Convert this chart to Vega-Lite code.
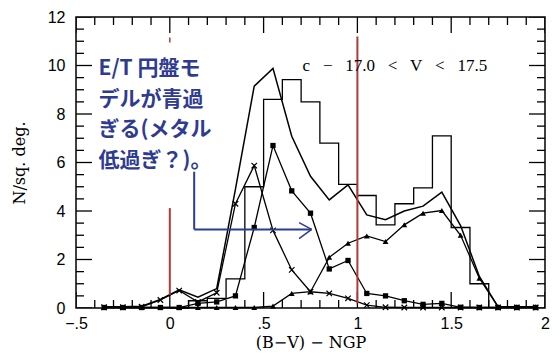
{
  "$schema": "https://vega.github.io/schema/vega-lite/v6.json",
  "width": 469,
  "height": 291,
  "autosize": "none",
  "padding": {"left": 76, "top": 17, "right": 15, "bottom": 49},
  "background": "white",
  "config": {
    "view": {"stroke": "black", "strokeWidth": 1.5}
  },
  "datasets": {
    "xmaj": [{"v": -0.5}, {"v": 0}, {"v": 0.5}, {"v": 1}, {"v": 1.5}, {"v": 2}],
    "xmin": [{"v": -0.4}, {"v": -0.3}, {"v": -0.2}, {"v": -0.1}, {"v": 0.1}, {"v": 0.2}, {"v": 0.3}, {"v": 0.4}, {"v": 0.6}, {"v": 0.7},
             {"v": 0.8}, {"v": 0.9}, {"v": 1.1}, {"v": 1.2}, {"v": 1.3}, {"v": 1.4}, {"v": 1.6}, {"v": 1.7}, {"v": 1.8}, {"v": 1.9}],
    "ymaj": [{"v": 0}, {"v": 2}, {"v": 4}, {"v": 6}, {"v": 8}, {"v": 10}, {"v": 12}],
    "ymin": [{"v": 0.5}, {"v": 1}, {"v": 1.5}, {"v": 2.5}, {"v": 3}, {"v": 3.5}, {"v": 4.5}, {"v": 5}, {"v": 5.5}, {"v": 6.5},
             {"v": 7}, {"v": 7.5}, {"v": 8.5}, {"v": 9}, {"v": 9.5}, {"v": 10.5}, {"v": 11}, {"v": 11.5}],
    "hist": [
      {"x0": 0.0, "n": 0}, {"x0": 0.1, "n": 0.3}, {"x0": 0.2, "n": 0.4}, {"x0": 0.3, "n": 1.2},
      {"x0": 0.4, "n": 5.0}, {"x0": 0.5, "n": 8.6}, {"x0": 0.6, "n": 9.42}, {"x0": 0.7, "n": 8.5},
      {"x0": 0.8, "n": 6.8}, {"x0": 0.9, "n": 5.1}, {"x0": 1.0, "n": 4.64}, {"x0": 1.1, "n": 3.43},
      {"x0": 1.2, "n": 4.3}, {"x0": 1.3, "n": 4.95}, {"x0": 1.4, "n": 7.1}, {"x0": 1.5, "n": 3.32},
      {"x0": 1.6, "n": 1.0}, {"x0": 1.7, "n": 0}
    ],
    "lines": [
      {"x": -0.35, "s": "T", "n": 0.05}, {"x": -0.25, "s": "T", "n": 0.05}, {"x": -0.15, "s": "T", "n": 0.07}, {"x": -0.05, "s": "T", "n": 0.35},
      {"x": 0.05, "s": "T", "n": 0.75}, {"x": 0.15, "s": "T", "n": 0.45}, {"x": 0.25, "s": "T", "n": 0.8}, {"x": 0.35, "s": "T", "n": 4.9},
      {"x": 0.45, "s": "T", "n": 9.15}, {"x": 0.55, "s": "T", "n": 9.88}, {"x": 0.65, "s": "T", "n": 7.08}, {"x": 0.75, "s": "T", "n": 5.43},
      {"x": 0.85, "s": "T", "n": 4.46}, {"x": 0.95, "s": "T", "n": 5.08}, {"x": 1.05, "s": "T", "n": 3.84}, {"x": 1.15, "s": "T", "n": 3.64},
      {"x": 1.25, "s": "T", "n": 4.0}, {"x": 1.35, "s": "T", "n": 4.2}, {"x": 1.45, "s": "T", "n": 4.78}, {"x": 1.55, "s": "T", "n": 3.4},
      {"x": 1.65, "s": "T", "n": 1.3}, {"x": 1.75, "s": "T", "n": 0.05}, {"x": 1.85, "s": "T", "n": 0.05}, {"x": 1.95, "s": "T", "n": 0.05},

      {"x": -0.35, "s": "H", "n": 0.03}, {"x": -0.25, "s": "H", "n": 0.03}, {"x": -0.15, "s": "H", "n": 0.05}, {"x": -0.05, "s": "H", "n": 0.33},
      {"x": 0.05, "s": "H", "n": 0.72}, {"x": 0.15, "s": "H", "n": 0.25}, {"x": 0.25, "s": "H", "n": 0.63}, {"x": 0.35, "s": "H", "n": 4.3},
      {"x": 0.45, "s": "H", "n": 5.87}, {"x": 0.55, "s": "H", "n": 3.2}, {"x": 0.65, "s": "H", "n": 1.57}, {"x": 0.75, "s": "H", "n": 0.67},
      {"x": 0.85, "s": "H", "n": 0.6}, {"x": 0.95, "s": "H", "n": 0.4}, {"x": 1.05, "s": "H", "n": 0.12}, {"x": 1.15, "s": "H", "n": 0.03},
      {"x": 1.25, "s": "H", "n": 0.02}, {"x": 1.35, "s": "H", "n": 0.02}, {"x": 1.45, "s": "H", "n": 0.02}, {"x": 1.55, "s": "H", "n": 0.02},
      {"x": 1.65, "s": "H", "n": 0.02}, {"x": 1.75, "s": "H", "n": 0.02}, {"x": 1.85, "s": "H", "n": 0.02}, {"x": 1.95, "s": "H", "n": 0.02},

      {"x": -0.35, "s": "K", "n": 0.02}, {"x": -0.25, "s": "K", "n": 0.02}, {"x": -0.15, "s": "K", "n": 0.02}, {"x": -0.05, "s": "K", "n": 0.02},
      {"x": 0.05, "s": "K", "n": 0.02}, {"x": 0.15, "s": "K", "n": 0.19}, {"x": 0.25, "s": "K", "n": 0.25}, {"x": 0.35, "s": "K", "n": 0.5},
      {"x": 0.45, "s": "K", "n": 3.32}, {"x": 0.55, "s": "K", "n": 6.7}, {"x": 0.65, "s": "K", "n": 4.83}, {"x": 0.75, "s": "K", "n": 3.91},
      {"x": 0.85, "s": "K", "n": 1.61}, {"x": 0.95, "s": "K", "n": 1.96}, {"x": 1.05, "s": "K", "n": 0.6}, {"x": 1.15, "s": "K", "n": 0.5},
      {"x": 1.25, "s": "K", "n": 0.3}, {"x": 1.35, "s": "K", "n": 0.15}, {"x": 1.45, "s": "K", "n": 0.19}, {"x": 1.55, "s": "K", "n": 0.03},
      {"x": 1.65, "s": "K", "n": 0.02}, {"x": 1.75, "s": "K", "n": 0.02}, {"x": 1.85, "s": "K", "n": 0.02}, {"x": 1.95, "s": "K", "n": 0.02},

      {"x": -0.35, "s": "D", "n": 0.02}, {"x": -0.25, "s": "D", "n": 0.02}, {"x": -0.15, "s": "D", "n": 0.02}, {"x": -0.05, "s": "D", "n": 0.02},
      {"x": 0.05, "s": "D", "n": 0.02}, {"x": 0.15, "s": "D", "n": 0.02}, {"x": 0.25, "s": "D", "n": 0.02}, {"x": 0.35, "s": "D", "n": 0.02},
      {"x": 0.45, "s": "D", "n": 0.02}, {"x": 0.55, "s": "D", "n": 0.08}, {"x": 0.65, "s": "D", "n": 0.6}, {"x": 0.75, "s": "D", "n": 0.67},
      {"x": 0.85, "s": "D", "n": 2.09}, {"x": 0.95, "s": "D", "n": 2.67}, {"x": 1.05, "s": "D", "n": 2.97}, {"x": 1.15, "s": "D", "n": 2.74},
      {"x": 1.25, "s": "D", "n": 3.43}, {"x": 1.35, "s": "D", "n": 3.91}, {"x": 1.45, "s": "D", "n": 4.02}, {"x": 1.55, "s": "D", "n": 3.0},
      {"x": 1.65, "s": "D", "n": 1.23}, {"x": 1.75, "s": "D", "n": 0.05}, {"x": 1.85, "s": "D", "n": 0.05}, {"x": 1.95, "s": "D", "n": 0.05}
    ]
  },
  "layer": [
    {
      "data": {"name": "hist"},
      "mark": {"type": "line", "interpolate": "step-after", "color": "black", "strokeWidth": 1.3},
      "encoding": {
        "x": {"field": "x0", "type": "quantitative", "scale": {"domain": [-0.5, 2], "nice": false, "zero": false},
          "axis": {"orient": "bottom", "values": [-0.5, 0, 0.5, 1, 1.5, 2], "ticks": false, "domain": false, "grid": false,
            "labelExpr": "replace(format(datum.value,'~g'),'0.','.')", "labelFlush": false, "labelOverlap": false, "labelColor": "black",
            "labelFont": "Liberation Sans", "labelFontSize": 16, "labelPadding": 7,
            "title": "(B−V) − NGP", "titleColor": "black", "titleFont": "DejaVu Serif", "titleFontSize": 16, "titleFontWeight": "normal", "titlePadding": 3}},
        "y": {"field": "n", "type": "quantitative", "scale": {"domain": [0, 12], "nice": false, "zero": true},
          "axis": {"orient": "left", "values": [0, 2, 4, 6, 8, 10, 12], "ticks": false, "domain": false, "grid": false,
            "labelFlush": false, "labelOverlap": false, "labelColor": "black",
            "labelFont": "Liberation Sans", "labelFontSize": 16, "labelPadding": 11,
            "title": "N/sq. deg.", "titleColor": "black", "titleFont": "DejaVu Serif", "titleFontSize": 16, "titleFontWeight": "normal", "titlePadding": 20}}
      }
    },
    {
      "data": {"name": "xmaj"},
      "mark": {"type": "tick", "orient": "vertical", "size": 32, "thickness": 1.3, "color": "black", "opacity": 1, "clip": true},
      "encoding": {"x": {"field": "v", "type": "quantitative", "axis": null}, "y": {"datum": 0, "type": "quantitative", "axis": null}}
    },
    {
      "data": {"name": "xmaj"},
      "mark": {"type": "tick", "orient": "vertical", "size": 32, "thickness": 1.3, "color": "black", "opacity": 1, "clip": true},
      "encoding": {"x": {"field": "v", "type": "quantitative", "axis": null}, "y": {"datum": 12, "type": "quantitative", "axis": null}}
    },
    {
      "data": {"name": "xmin"},
      "mark": {"type": "tick", "orient": "vertical", "size": 16, "thickness": 1.3, "color": "black", "opacity": 1, "clip": true},
      "encoding": {"x": {"field": "v", "type": "quantitative", "axis": null}, "y": {"datum": 0, "type": "quantitative", "axis": null}}
    },
    {
      "data": {"name": "xmin"},
      "mark": {"type": "tick", "orient": "vertical", "size": 16, "thickness": 1.3, "color": "black", "opacity": 1, "clip": true},
      "encoding": {"x": {"field": "v", "type": "quantitative", "axis": null}, "y": {"datum": 12, "type": "quantitative", "axis": null}}
    },
    {
      "data": {"name": "ymaj"},
      "mark": {"type": "tick", "orient": "horizontal", "size": 32, "thickness": 1.3, "color": "black", "opacity": 1, "clip": true},
      "encoding": {"y": {"field": "v", "type": "quantitative", "axis": null}, "x": {"datum": -0.5, "type": "quantitative", "axis": null}}
    },
    {
      "data": {"name": "ymaj"},
      "mark": {"type": "tick", "orient": "horizontal", "size": 32, "thickness": 1.3, "color": "black", "opacity": 1, "clip": true},
      "encoding": {"y": {"field": "v", "type": "quantitative", "axis": null}, "x": {"datum": 2, "type": "quantitative", "axis": null}}
    },
    {
      "data": {"name": "ymin"},
      "mark": {"type": "tick", "orient": "horizontal", "size": 16, "thickness": 1.3, "color": "black", "opacity": 1, "clip": true},
      "encoding": {"y": {"field": "v", "type": "quantitative", "axis": null}, "x": {"datum": -0.5, "type": "quantitative", "axis": null}}
    },
    {
      "data": {"name": "ymin"},
      "mark": {"type": "tick", "orient": "horizontal", "size": 16, "thickness": 1.3, "color": "black", "opacity": 1, "clip": true},
      "encoding": {"y": {"field": "v", "type": "quantitative", "axis": null}, "x": {"datum": 2, "type": "quantitative", "axis": null}}
    },
    {
      "data": {"name": "lines"},
      "transform": [{"filter": "datum.s == 'T'"}],
      "mark": {"type": "line", "color": "black", "strokeWidth": 1.5},
      "encoding": {
        "x": {"field": "x", "type": "quantitative", "axis": null},
        "y": {"field": "n", "type": "quantitative", "axis": null}
      }
    },
    {
      "data": {"name": "lines"},
      "transform": [{"filter": "datum.s != 'T'"}],
      "mark": {"type": "line", "color": "black", "strokeWidth": 1.3},
      "encoding": {
        "x": {"field": "x", "type": "quantitative", "axis": null},
        "y": {"field": "n", "type": "quantitative", "axis": null},
        "detail": {"field": "s"}
      }
    },
    {
      "data": {"name": "lines"},
      "transform": [{"filter": "datum.s == 'H'"}],
      "mark": {"type": "point", "shape": "M-1,-1L1,1M-1,1L1,-1", "filled": false, "color": "black", "strokeWidth": 1.2, "size": 30, "opacity": 1},
      "encoding": {
        "x": {"field": "x", "type": "quantitative", "axis": null},
        "y": {"field": "n", "type": "quantitative", "axis": null}
      }
    },
    {
      "data": {"name": "lines"},
      "transform": [{"filter": "datum.s == 'K'"}],
      "mark": {"type": "point", "shape": "square", "filled": true, "color": "black", "size": 28, "opacity": 1},
      "encoding": {
        "x": {"field": "x", "type": "quantitative", "axis": null},
        "y": {"field": "n", "type": "quantitative", "axis": null}
      }
    },
    {
      "data": {"name": "lines"},
      "transform": [{"filter": "datum.s == 'D'"}],
      "mark": {"type": "point", "shape": "triangle-up", "filled": true, "color": "black", "size": 34, "opacity": 1},
      "encoding": {
        "x": {"field": "x", "type": "quantitative", "axis": null},
        "y": {"field": "n", "type": "quantitative", "axis": null}
      }
    },
    {
      "data": {"values": [{}]},
      "mark": {"type": "rule", "color": "#b03a3a", "strokeWidth": 2},
      "encoding": {"x": {"datum": 0, "type": "quantitative", "axis": null}, "y": {"datum": 0.54, "type": "quantitative", "axis": null}, "y2": {"datum": 4.12}}
    },
    {
      "data": {"values": [{}]},
      "mark": {"type": "rule", "color": "#b03a3a", "strokeWidth": 2},
      "encoding": {"x": {"datum": 1, "type": "quantitative", "axis": null}, "y": {"datum": 0.2, "type": "quantitative", "axis": null}, "y2": {"datum": 11.2}}
    },
    {
      "data": {"values": [{}]},
      "mark": {"type": "rule", "color": "#b03a3a", "strokeWidth": 1.5},
      "encoding": {"x": {"datum": 0, "type": "quantitative", "axis": null}, "y": {"datum": 10.95, "type": "quantitative", "axis": null}, "y2": {"datum": 11.15}}
    },
    {
      "data": {"values": [{}]},
      "mark": {"type": "text", "text": "c\u2002\u00a0−\u2002\u00a017.0\u2002\u00a0<\u2002\u00a0V\u2002\u00a0<\u2002\u00a017.5", "font": "Liberation Serif", "fontSize": 17, "align": "left", "baseline": "middle", "color": "black"},
      "encoding": {"x": {"datum": 0.708, "type": "quantitative", "axis": null}, "y": {"datum": 9.97, "type": "quantitative", "axis": null}}
    },
    {
      "data": {"values": [{}]},
      "mark": {"type": "text", "text": ["E/T 円盤モ", "デルが青過", "ぎる(メタル", "低過ぎ？)。"], "font": "Noto Sans CJK JP", "fontSize": 21, "fontWeight": "bold", "align": "left", "baseline": "top", "lineHeight": 30.5, "color": "#2f3a91"},
      "encoding": {"x": {"datum": -0.38, "type": "quantitative", "axis": null}, "y": {"datum": 10.3, "type": "quantitative", "axis": null}}
    },
    {
      "data": {"values": [{}]},
      "mark": {"type": "rule", "color": "#2f3a91", "strokeWidth": 2},
      "encoding": {"x": {"datum": 0.13, "type": "quantitative", "axis": null}, "y": {"datum": 5.62, "type": "quantitative", "axis": null}, "y2": {"datum": 3.24}}
    },
    {
      "data": {"values": [{}]},
      "mark": {"type": "rule", "color": "#2f3a91", "strokeWidth": 2},
      "encoding": {"x": {"datum": 0.13, "type": "quantitative", "axis": null}, "x2": {"datum": 0.756}, "y": {"datum": 3.24, "type": "quantitative", "axis": null}}
    },
    {
      "data": {"values": [{}]},
      "mark": {"type": "rule", "color": "#2f3a91", "strokeWidth": 1.5},
      "encoding": {"x": {"datum": 0.689, "type": "quantitative", "axis": null}, "x2": {"datum": 0.756}, "y": {"datum": 3.52, "type": "quantitative", "axis": null}, "y2": {"datum": 3.24}}
    },
    {
      "data": {"values": [{}]},
      "mark": {"type": "rule", "color": "#2f3a91", "strokeWidth": 1.5},
      "encoding": {"x": {"datum": 0.689, "type": "quantitative", "axis": null}, "x2": {"datum": 0.756}, "y": {"datum": 2.86, "type": "quantitative", "axis": null}, "y2": {"datum": 3.24}}
    }
  ],
  "resolve": {"axis": {"x": "independent", "y": "independent"}}
}
